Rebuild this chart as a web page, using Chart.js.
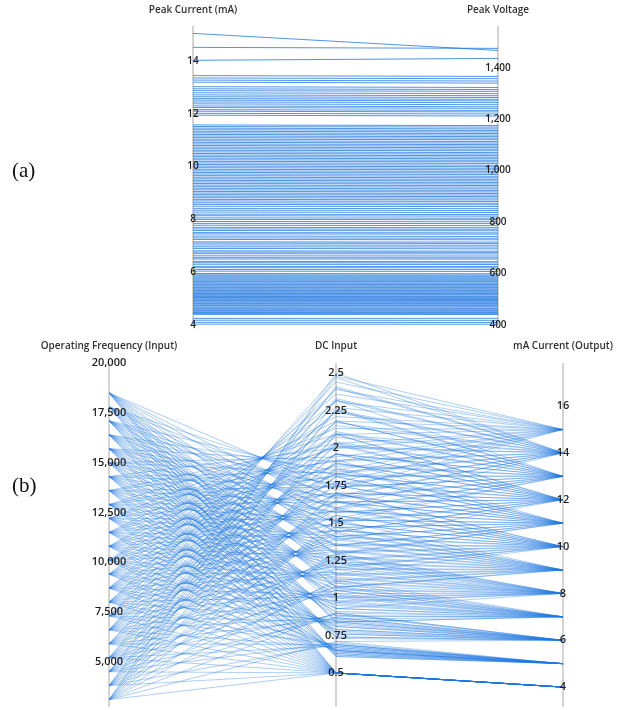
<!DOCTYPE html>
<html>
<head>
<meta charset="utf-8">
<script src="https://cdn.jsdelivr.net/npm/chart.js@4.4.1/dist/chart.umd.min.js"></script>
<style>
  body { margin: 0; background: #fff; width: 628px; height: 710px; position: relative; overflow: hidden; }
  #wrapA { position: absolute; left: 0; top: 0; width: 628px; height: 338px; }
  #wrapB { position: absolute; left: 0; top: 338px; width: 628px; height: 372px; }
  .tag { position: absolute; left: 12px; font-family: "Liberation Serif", serif; font-size: 21px; color: #111; }
</style>
</head>
<body>
<div id="wrapA"><canvas id="chartA"></canvas></div>
<div id="wrapB"><canvas id="chartB"></canvas></div>
<div class="tag" style="top:158px">(a)</div>
<div class="tag" style="top:473px">(b)</div>
<script>
// ---- panel (a) ----
const currentTicks = [4, 6, 8, 10, 12, 14];
const voltageTicks = [400, 600, 800, 1000, 1200, 1400];

const peakCurrent = [
  4.03, 4.1, 4.18, 4.25,
  4.4, 4.43, 4.47, 4.5, 4.54, 4.57, 4.61, 4.64, 4.68, 4.72, 4.75, 4.79, 4.82, 4.86, 4.9, 4.93, 4.97,
  5.01, 5.04, 5.08, 5.11, 5.15, 5.19, 5.22, 5.26, 5.3, 5.33, 5.37, 5.41, 5.44, 5.48, 5.52, 5.55, 5.59,
  5.63, 5.66, 5.7, 5.74, 5.78, 5.82, 5.86, 5.9, 5.95,
  6.04, 6.1, 6.17, 6.22, 6.3, 6.36, 6.41, 6.5, 6.55, 6.62, 6.7, 6.76, 6.81, 6.9, 6.96, 7.03, 7.1, 7.15,
  7.24, 7.3, 7.37, 7.45, 7.5, 7.58, 7.64, 7.7, 7.78, 7.85, 7.92, 8.0, 8.06, 8.14, 8.2, 8.28, 8.35, 8.42,
  8.5, 8.57, 8.63,
  8.7, 8.76, 8.82, 8.88, 8.94, 9.0, 9.06, 9.12, 9.18, 9.24, 9.3, 9.36, 9.42, 9.48, 9.54, 9.6, 9.66, 9.72,
  9.78, 9.84, 9.9, 9.96, 10.02, 10.08, 10.14, 10.2, 10.26, 10.32, 10.38, 10.44, 10.5, 10.56, 10.62, 10.68,
  10.74, 10.8, 10.86, 10.92, 10.98, 11.04, 11.1, 11.16, 11.22, 11.28, 11.34, 11.4, 11.46, 11.52, 11.58,
  11.95, 12.02, 12.1, 12.16, 12.24, 12.3, 12.38, 12.45, 12.52, 12.58, 12.65, 12.72, 12.8, 12.88, 12.95, 13.03,
  13.2, 13.28, 13.36, 13.45,
  14.03, 14.52, 15.05
];
const peakVoltage = [
  403, 410, 418, 426,
  441, 444, 448, 451, 455, 458, 462, 465, 470, 474, 477, 481, 484, 488, 492, 495, 499,
  503, 506, 510, 513, 518, 522, 525, 529, 533, 536, 540, 544, 547, 551, 555, 558, 562,
  567, 570, 574, 578, 582, 586, 590, 594, 599,
  608, 615, 622, 627, 635, 641, 646, 656, 661, 668, 676, 682, 687, 696, 703, 710, 717, 722,
  731, 737, 744, 753, 758, 766, 772, 778, 786, 794, 801, 809, 815, 823, 829, 837, 845, 852,
  860, 867, 873,
  880, 886, 893, 899, 905, 911, 917, 923, 929, 936, 942, 948, 954, 960, 966, 972, 978, 985,
  991, 997, 1003, 1009, 1015, 1021, 1028, 1034, 1040, 1046, 1052, 1058, 1064, 1070, 1077, 1083,
  1089, 1095, 1101, 1107, 1113, 1120, 1126, 1132, 1138, 1144, 1150, 1156, 1162, 1169, 1175,
  1212, 1220, 1228, 1234, 1242, 1248, 1256, 1264, 1271, 1277, 1284, 1291, 1299, 1308, 1315, 1323,
  1340, 1348, 1357, 1366,
  1436, 1475, 1467
];

// ---- panel (b) ----
const freqTicks = [5000, 7500, 10000, 12500, 15000, 17500, 20000];
const dcTicks = [0.5, 0.75, 1, 1.25, 1.5, 1.75, 2, 2.25, 2.5];
const maTicks = [4, 6, 8, 10, 12, 14, 16];

const freqInput = [
  3100, 3100, 3100, 3100, 3100, 3100, 3100, 3100, 3100, 3100, 3100,
  3800, 3800, 3800, 3800, 3800, 3800, 3800, 3800, 3800, 3800, 3800,
  4500, 4500, 4500, 4500, 4500, 4500, 4500, 4500, 4500, 4500, 4500,
  5200, 5200, 5200, 5200, 5200, 5200, 5200, 5200, 5200, 5200, 5200,
  5900, 5900, 5900, 5900, 5900, 5900, 5900, 5900, 5900, 5900, 5900,
  6600, 6600, 6600, 6600, 6600, 6600, 6600, 6600, 6600, 6600, 6600, 6600,
  7300, 7300, 7300, 7300, 7300, 7300, 7300, 7300, 7300, 7300, 7300, 7300,
  8000, 8000, 8000, 8000, 8000, 8000, 8000, 8000, 8000, 8000, 8000, 8000,
  8700, 8700, 8700, 8700, 8700, 8700, 8700, 8700, 8700, 8700, 8700, 8700,
  9400, 9400, 9400, 9400, 9400, 9400, 9400, 9400, 9400, 9400, 9400, 9400,
  10100, 10100, 10100, 10100, 10100, 10100, 10100, 10100, 10100, 10100, 10100, 10100,
  10800, 10800, 10800, 10800, 10800, 10800, 10800, 10800, 10800, 10800, 10800, 10800,
  11500, 11500, 11500, 11500, 11500, 11500, 11500, 11500, 11500, 11500, 11500, 11500,
  12200, 12200, 12200, 12200, 12200, 12200, 12200, 12200, 12200, 12200, 12200, 12200,
  12900, 12900, 12900, 12900, 12900, 12900, 12900, 12900, 12900, 12900, 12900, 12900,
  13600, 13600, 13600, 13600, 13600, 13600, 13600, 13600, 13600, 13600, 13600, 13600,
  14300, 14300, 14300, 14300, 14300, 14300, 14300, 14300, 14300, 14300, 14300, 14300,
  15000, 15000, 15000, 15000, 15000, 15000, 15000, 15000, 15000, 15000, 15000, 15000,
  15700, 15700, 15700, 15700, 15700, 15700, 15700, 15700, 15700, 15700, 15700, 15700,
  16400, 16400, 16400, 16400, 16400, 16400, 16400, 16400, 16400, 16400, 16400, 16400,
  17100, 17100, 17100, 17100, 17100, 17100, 17100, 17100, 17100, 17100, 17100, 17100,
  17800, 17800, 17800, 17800, 17800, 17800, 17800, 17800, 17800, 17800, 17800, 17800,
  18500, 18500, 18500, 18500, 18500, 18500, 18500, 18500, 18500, 18500, 18500, 18500
];
const dcInput = [
  0.5, 0.71, 0.9, 1.12, 1.29, 1.52, 1.7, 1.92, 2.09, 2.32, 2.5,
  0.5, 0.69, 0.9, 1.08, 1.3, 1.47, 1.7, 1.86, 2.09, 2.26, 2.47,
  0.5, 0.7, 0.87, 1.1, 1.26, 1.48, 1.64, 1.87, 2.03, 2.25, 2.41,
  0.5, 0.68, 0.89, 1.05, 1.27, 1.43, 1.65, 1.81, 2.02, 2.18, 2.4,
  0.5, 0.69, 0.86, 1.07, 1.23, 1.44, 1.59, 1.81, 1.96, 2.18, 2.33,
  0.5, 0.67, 0.87, 1.03, 1.24, 1.39, 1.6, 1.75, 1.96, 2.11, 2.32, 2.48,
  0.5, 0.69, 0.84, 1.05, 1.19, 1.4, 1.55, 1.75, 1.9, 2.1, 2.25, 2.44,
  0.5, 0.66, 0.85, 1.01, 1.21, 1.35, 1.55, 1.69, 1.9, 2.04, 2.24, 2.39,
  0.5, 0.68, 0.83, 1.02, 1.16, 1.36, 1.5, 1.69, 1.83, 2.03, 2.17, 2.36,
  0.5, 0.65, 0.84, 0.98, 1.17, 1.31, 1.5, 1.64, 1.83, 1.96, 2.15, 2.31,
  0.5, 0.67, 0.81, 1.0, 1.13, 1.32, 1.45, 1.64, 1.77, 1.96, 2.09, 2.27,
  0.5, 0.65, 0.82, 0.96, 1.14, 1.27, 1.45, 1.58, 1.76, 1.89, 2.07, 2.21,
  0.5, 0.66, 0.79, 0.97, 1.1, 1.28, 1.4, 1.58, 1.7, 1.88, 2.01, 2.18,
  0.5, 0.64, 0.81, 0.93, 1.11, 1.23, 1.41, 1.52, 1.7, 1.82, 2.0, 2.13,
  0.5, 0.65, 0.78, 0.95, 1.06, 1.24, 1.35, 1.52, 1.64, 1.81, 1.92, 2.09,
  0.5, 0.63, 0.79, 0.91, 1.08, 1.19, 1.36, 1.47, 1.64, 1.74, 1.91, 2.03,
  0.5, 0.65, 0.76, 0.93, 1.03, 1.2, 1.3, 1.47, 1.57, 1.74, 1.84, 2.0,
  0.5, 0.62, 0.77, 0.88, 1.05, 1.15, 1.31, 1.41, 1.57, 1.67, 1.83, 1.94,
  0.5, 0.64, 0.74, 0.9, 1.0, 1.16, 1.25, 1.41, 1.51, 1.66, 1.76, 1.91,
  0.5, 0.61, 0.76, 0.86, 1.01, 1.11, 1.26, 1.35, 1.5, 1.6, 1.75, 1.85,
  0.5, 0.63, 0.73, 0.88, 0.97, 1.12, 1.2, 1.35, 1.44, 1.59, 1.68, 1.82,
  0.5, 0.61, 0.74, 0.84, 0.98, 1.07, 1.21, 1.3, 1.44, 1.53, 1.67, 1.77,
  0.5, 0.62, 0.71, 0.84, 0.93, 1.07, 1.16, 1.29, 1.38, 1.51, 1.6, 1.72
];
const maOutput = [
  4, 5, 6, 7, 8, 9, 10, 11, 12, 13, 14,
  4, 5, 6, 7, 8, 9, 10, 11, 12, 13, 14,
  4, 5, 6, 7, 8, 9, 10, 11, 12, 13, 14,
  4, 5, 6, 7, 8, 9, 10, 11, 12, 13, 14,
  4, 5, 6, 7, 8, 9, 10, 11, 12, 13, 14,
  4, 5, 6, 7, 8, 9, 10, 11, 12, 13, 14, 15,
  4, 5, 6, 7, 8, 9, 10, 11, 12, 13, 14, 15,
  4, 5, 6, 7, 8, 9, 10, 11, 12, 13, 14, 15,
  4, 5, 6, 7, 8, 9, 10, 11, 12, 13, 14, 15,
  4, 5, 6, 7, 8, 9, 10, 11, 12, 13, 14, 15,
  4, 5, 6, 7, 8, 9, 10, 11, 12, 13, 14, 15,
  4, 5, 6, 7, 8, 9, 10, 11, 12, 13, 14, 15,
  4, 5, 6, 7, 8, 9, 10, 11, 12, 13, 14, 15,
  4, 5, 6, 7, 8, 9, 10, 11, 12, 13, 14, 15,
  4, 5, 6, 7, 8, 9, 10, 11, 12, 13, 14, 15,
  4, 5, 6, 7, 8, 9, 10, 11, 12, 13, 14, 15,
  4, 5, 6, 7, 8, 9, 10, 11, 12, 13, 14, 15,
  4, 5, 6, 7, 8, 9, 10, 11, 12, 13, 14, 15,
  4, 5, 6, 7, 8, 9, 10, 11, 12, 13, 14, 15,
  4, 5, 6, 7, 8, 9, 10, 11, 12, 13, 14, 15,
  4, 5, 6, 7, 8, 9, 10, 11, 12, 13, 14, 15,
  4, 5, 6, 7, 8, 9, 10, 11, 12, 13, 14, 15,
  4, 5, 6, 7, 8, 9, 10, 11, 12, 13, 14, 15
];

// draws the vertical axes, their tick labels and titles from each axis scale
const parallelAxes = {
  id: 'parallelAxes',
  beforeDatasetsDraw(chart, args, opts) {
    const { ctx, chartArea } = chart;
    ctx.save();
    ctx.strokeStyle = '#c8c6c4';
    ctx.lineWidth = 1.5;
    opts.axes.forEach((a, i) => {
      const x = chart.scales.x.getPixelForValue(i);
      ctx.beginPath();
      ctx.moveTo(x, chartArea.top);
      ctx.lineTo(x, chartArea.bottom);
      ctx.stroke();
    });
    ctx.restore();
  },
  afterDatasetsDraw(chart, args, opts) {
    const { ctx } = chart;
    ctx.save();
    ctx.textAlign = 'center';
    ctx.textBaseline = 'middle';
    opts.axes.forEach((a, i) => {
      const x = chart.scales.x.getPixelForValue(i);
      const scale = chart.scales['ax' + i];
      ctx.fillStyle = '#201f1e';
      ctx.font = opts.tickFont;
      a.ticks.forEach(t => ctx.fillText(t.toLocaleString('en-US'), x, scale.getPixelForValue(t)));
      ctx.fillStyle = '#323130';
      ctx.font = opts.titleFont;
      ctx.fillText(a.title, x, opts.titleY);
    });
    ctx.restore();
  }
};

function parallelChart(canvasId, axes, look) {
  const rows = Math.min(...axes.map(a => a.values.length));
  const datasets = [];
  for (let r = 0; r < rows; r++) {
    datasets.push({
      data: axes.map((a, i) => ({ x: i, y: (a.values[r] - a.min) / (a.max - a.min) })),
      borderColor: look.color,
      borderWidth: look.width,
      pointRadius: 0,
      fill: false,
      tension: 0
    });
  }
  const scales = {
    x: { type: 'linear', min: 0, max: axes.length - 1, display: false },
    y: { type: 'linear', min: 0, max: 1, display: false }
  };
  axes.forEach((a, i) => {
    scales['ax' + i] = { type: 'linear', axis: 'y', position: 'left', min: a.min, max: a.max, display: false };
  });
  return new Chart(document.getElementById(canvasId), {
    type: 'line',
    data: { datasets },
    options: {
      responsive: true,
      maintainAspectRatio: false,
      animation: false,
      events: [],
      layout: { padding: look.padding },
      scales,
      plugins: {
        legend: { display: false },
        tooltip: { enabled: false },
        parallelAxes: { axes, tickFont: look.tickFont, titleFont: look.titleFont, titleY: look.titleY }
      }
    },
    plugins: [parallelAxes]
  });
}

parallelChart('chartA', [
  { title: 'Peak Current (mA)', min: 3.96, max: 15.33, ticks: currentTicks, values: peakCurrent },
  { title: 'Peak Voltage', min: 396, max: 1562, ticks: voltageTicks, values: peakVoltage }
], {
  color: 'rgba(22, 112, 222, 0.75)', width: 1,
  padding: { left: 193, right: 130, top: 26, bottom: 12 },
  tickFont: '600 10px "Open Sans"', titleFont: '600 10px "Open Sans"', titleY: 10
});

parallelChart('chartB', [
  { title: 'Operating Frequency (Input)', min: 2730, max: 20000, ticks: freqTicks, values: freqInput },
  { title: 'DC Input', min: 0.273, max: 2.567, ticks: dcTicks, values: dcInput },
  { title: 'mA Current (Output)', min: 3.15, max: 17.84, ticks: maTicks, values: maOutput }
], {
  color: 'rgba(30, 120, 225, 0.36)', width: 1,
  padding: { left: 109, right: 65, top: 25, bottom: 3 },
  tickFont: '600 11px "Open Sans"', titleFont: '600 10px "Open Sans"', titleY: 8
});
</script>
</body>
</html>
